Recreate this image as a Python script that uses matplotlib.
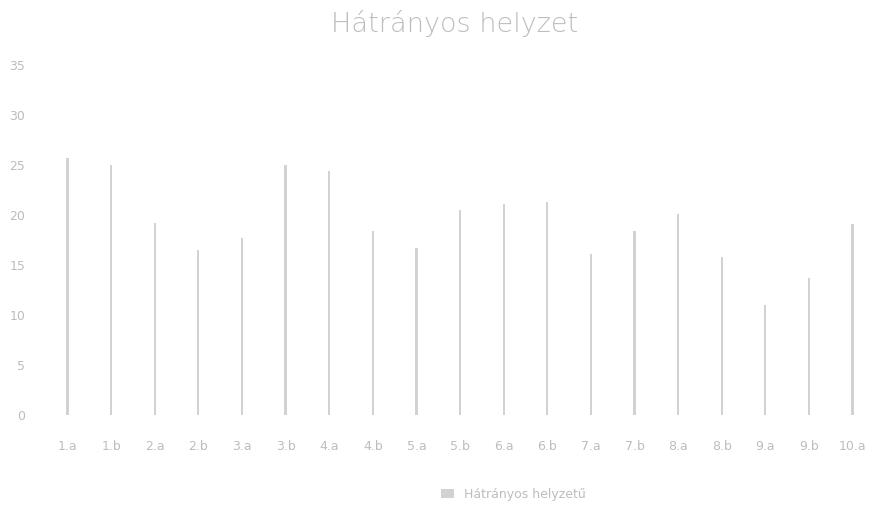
import matplotlib
matplotlib.use("Agg")
import matplotlib.pyplot as plt

title = "Hátrányos helyzet"
categories = ["1.a", "1.b", "2.a", "2.b", "3.a", "3.b", "4.a", "4.b", "5.a", "5.b",
              "6.a", "6.b", "7.a", "7.b", "8.a", "8.b", "9.a", "9.b", "10.a"]
values = [25.7, 25.0, 19.2, 16.5, 17.7, 25.0, 24.4, 18.4, 16.7, 20.5,
          21.1, 21.3, 16.1, 18.4, 20.1, 15.8, 11.0, 13.7, 19.1]
series_name = "Hátrányos helyzetű"
yticks = [0, 5, 10, 15, 20, 25, 30, 35]

light = "#d2d2d2"
text_c = "#bdbdbd"

fig = plt.figure(figsize=(8.7, 5.12), dpi=100)
ax = fig.add_axes([0.05, 0.189, 0.945, 0.684])
x = list(range(len(categories)))
ax.bar(x, values, width=0.05, color=light, edgecolor="none", label=series_name)
ax.set_xlim(-0.55, 18.3)
ax.set_ylim(0, 35)
ax.set_yticks(yticks)
ax.set_yticklabels([str(v) for v in yticks], color=text_c, fontsize=9)
ax.set_xticks(x)
ax.set_xticklabels(categories, color=text_c, fontsize=9)
ax.tick_params(axis="x", length=0, pad=18)
ax.tick_params(axis="y", length=0, pad=13)
for s in ax.spines.values():
    s.set_visible(False)
fig.text(0.523, 0.955, title, ha="center", va="center", fontsize=19.5,
         color=text_c, fontweight="light")
fig.legend(loc="lower center", bbox_to_anchor=(0.59, 0.0), frameon=False,
           fontsize=9, labelcolor=text_c, handlelength=1.0)
fig.savefig("out.png", dpi=100, facecolor="white")
